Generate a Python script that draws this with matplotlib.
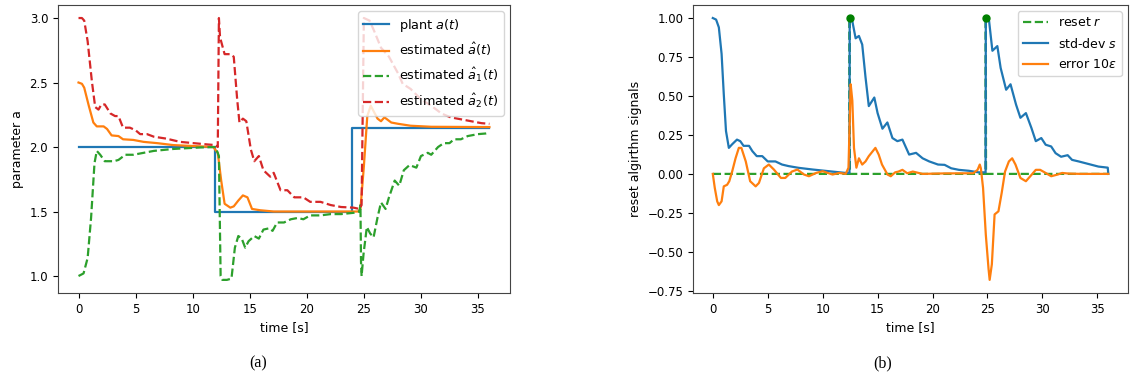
import numpy as np
import matplotlib.pyplot as plt

# --- panel (a): plant parameter and its estimates ---
plant_t = [0, 12, 24, 36]
plant_a = [2.0, 1.5, 2.15, 2.15]

est_t = [0, 0.3, 0.5, 0.9, 1.3, 1.6, 2.2, 2.5, 2.9, 3.5, 3.9, 4.8, 5.7, 6.9, 8.3, 10.7, 11.8,
         12.2, 12.5, 12.8, 13.3, 13.6, 14.0, 14.4, 14.8, 15.2, 15.9, 17.1, 20.0, 24.5,
         24.7, 25.0, 25.3, 25.6, 25.9, 26.2, 26.5, 26.8, 27.4, 28.0, 29.1, 30.9, 35.3, 36]
est_a = [2.5, 2.49, 2.46, 2.32, 2.19, 2.16, 2.16, 2.14, 2.09, 2.085, 2.06, 2.055, 2.04, 2.03, 2.015, 2.005, 2.0,
         1.955, 1.74, 1.56, 1.53, 1.54, 1.585, 1.625, 1.61, 1.52, 1.51, 1.5, 1.5, 1.5,
         1.52, 1.85, 2.24, 2.32, 2.27, 2.22, 2.2, 2.23, 2.19, 2.18, 2.165, 2.157, 2.155, 2.155]

est1_t = [0, 0.44, 0.8, 1.1, 1.4, 1.6, 1.9, 2.3, 3.1, 3.5, 4.1, 4.8, 5.4, 6.6, 8.3, 10.7, 12.0,
          12.3, 12.45, 12.6, 13.0, 13.4, 13.7, 14.0, 14.3, 14.6, 14.9, 15.4, 15.8, 16.2, 16.7,
          17.0, 17.4, 18.0, 18.6, 19.2, 19.7, 20.3, 21.2, 22.1, 23.0, 24.1, 24.6,
          24.7, 24.75, 24.8, 24.97, 25.26, 25.55, 25.85, 26.2, 26.5, 26.9, 27.2, 27.7, 28.1,
          28.5, 29.0, 29.6, 30.0, 30.6, 30.9, 31.5, 32.0, 32.5, 32.9, 33.5, 34.1, 35.0, 35.7, 36]
est1_a = [1.0, 1.02, 1.14, 1.45, 1.875, 1.97, 1.94, 1.89, 1.89, 1.90, 1.94, 1.94, 1.95, 1.97, 1.985, 1.997, 2.0,
          1.93, 1.0, 0.97, 0.97, 0.98, 1.22, 1.31, 1.29, 1.22, 1.27, 1.31, 1.29, 1.36, 1.37,
          1.35, 1.415, 1.415, 1.44, 1.45, 1.44, 1.47, 1.47, 1.48, 1.48, 1.49, 1.5,
          1.55, 1.11, 1.0, 1.17, 1.38, 1.33, 1.30, 1.455, 1.57, 1.52, 1.61, 1.74, 1.70,
          1.82, 1.86, 1.84, 1.93, 1.955, 1.94, 2.0, 2.03, 2.03, 2.06, 2.06, 2.085, 2.1, 2.105, 2.11]

est2_t = [0, 0.3, 0.5, 0.8, 1.17, 1.46, 1.75, 2.0, 2.3, 2.8, 3.2, 3.5, 3.9, 4.5, 5.0, 5.4, 6.0,
          6.6, 7.7, 8.9, 10.1, 11.3, 12.0, 12.2, 12.3, 12.4, 12.8, 13.3, 13.6, 13.9, 14.1,
          14.4, 14.7, 15.1, 15.4, 15.8, 16.2, 16.8, 17.1, 17.7, 18.3, 18.9, 19.7, 20.3,
          21.2, 22.1, 23.0, 24.1, 24.6, 24.8, 25.0, 25.5, 25.9, 26.5, 27.2, 28.0, 28.4,
          29.1, 30.0, 30.9, 31.8, 32.6, 34.4, 35.3, 36]
est2_a = [3.0, 3.0, 2.98, 2.82, 2.51, 2.31, 2.29, 2.33, 2.33, 2.26, 2.24, 2.24, 2.15, 2.15, 2.13, 2.1, 2.1,
          2.08, 2.065, 2.04, 2.03, 2.02, 2.015, 2.0, 3.0, 2.85, 2.72, 2.72, 2.70, 2.37, 2.19,
          2.22, 2.2, 1.98, 1.89, 1.93, 1.82, 1.77, 1.80, 1.665, 1.665, 1.61, 1.61, 1.575,
          1.575, 1.55, 1.535, 1.53, 1.52, 1.55, 3.0, 2.98, 2.90, 2.77, 2.70, 2.57, 2.49,
          2.45, 2.37, 2.32, 2.26, 2.23, 2.2, 2.185, 2.18]

# --- panel (b): reset algorithm signals ---
reset_t = [0, 12.44, 12.46, 12.48, 24.83, 24.85, 24.87, 36]
reset_r = [0, 0, 1, 0, 0, 1, 0, 0]

std_t = [0, 0.3, 0.55, 0.8, 1.0, 1.2, 1.46, 1.76, 2.2, 2.5, 2.8, 3.3, 3.6, 4.0, 4.5, 5.0, 5.7,
         6.3, 6.9, 7.8, 9.1, 10.6, 12.1, 12.44, 12.46, 12.7, 13.0, 13.3, 13.6, 13.9, 14.2,
         14.7, 15.0, 15.44, 15.89, 16.35, 16.8, 17.26, 17.87, 18.5, 19.1, 19.7, 20.5, 21.1,
         21.7, 22.4, 23.3, 24.2, 24.83, 24.85, 25.15, 25.45, 25.9, 26.2, 26.7, 27.1, 27.6,
         28.0, 28.5, 29.0, 29.4, 29.9, 30.3, 30.8, 31.2, 31.7, 32.3, 32.7, 33.3, 33.9, 34.5,
         35.1, 35.95, 36]
std_s = [1.0, 0.99, 0.94, 0.77, 0.51, 0.275, 0.167, 0.19, 0.22, 0.21, 0.18, 0.18, 0.146, 0.114, 0.114, 0.08, 0.08,
         0.06, 0.05, 0.039, 0.028, 0.017, 0.006, 0.006, 1.0, 0.98, 0.87, 0.885, 0.83, 0.62, 0.435,
         0.49, 0.39, 0.29, 0.33, 0.23, 0.21, 0.22, 0.124, 0.135, 0.10, 0.08, 0.06, 0.058,
         0.036, 0.026, 0.02, 0.01, 0.01, 1.0, 0.98, 0.79, 0.82, 0.68, 0.54, 0.575, 0.445,
         0.36, 0.39, 0.295, 0.21, 0.23, 0.187, 0.176, 0.133, 0.11, 0.12, 0.09, 0.08, 0.069, 0.058,
         0.047, 0.04, 0.0]

err_t = [0, 0.18, 0.4, 0.55, 0.8, 1.0, 1.3, 1.5, 1.76, 2.07, 2.37, 2.6, 3.0, 3.4, 3.9, 4.2, 4.65,
         5.1, 5.56, 6.2, 6.6, 7.2, 7.7, 8.3, 8.75, 9.4, 10.0, 10.9, 11.5, 12.1, 12.35, 12.55,
         12.7, 12.85, 13.07, 13.3, 13.6, 13.9, 14.2, 14.8, 15.1, 15.4, 15.9, 16.2, 16.6, 16.9,
         17.26, 17.7, 18.2, 19.1, 21.0, 23.7, 24.1, 24.3, 24.4, 24.6, 24.85, 25.1, 25.2, 25.4,
         25.65, 26.0, 26.3, 26.6, 26.95, 27.25, 27.55, 28.0, 28.5, 28.9, 29.4, 29.8, 30.3,
         30.8, 31.4, 31.8, 32.4, 33.5, 36]
err_e = [0, -0.09, -0.176, -0.2, -0.176, -0.08, -0.07, -0.047, 0.015, 0.10, 0.167, 0.167, 0.08, -0.047, -0.08, -0.058, 0.036,
         0.06, 0.028, -0.026, -0.026, 0.015, 0.028, -0.004, -0.015, 0.006, 0.017, -0.004, 0.006, 0.0, 0.04, 0.575,
         0.47, 0.167, 0.04, 0.10, 0.06, 0.08, 0.114, 0.167, 0.124, 0.06, -0.004, -0.015, 0.01, 0.015,
         0.026, 0.004, 0.015, 0.0, 0.003, 0.004, 0.026, 0.06, 0.036, -0.09, -0.39, -0.61, -0.68, -0.58,
         -0.26, -0.24, -0.12, 0.015, 0.08, 0.10, 0.06, -0.026, -0.047, -0.015, 0.026, 0.026, 0.006,
         -0.015, -0.004, 0.006, 0.002, 0.0, 0.0]

plt.rcParams['font.size'] = 9
plt.rcParams['xtick.labelsize'] = 8.5
plt.rcParams['ytick.labelsize'] = 8.5
fig = plt.figure(figsize=(11.3, 3.8), dpi=100)

# left panel
ax1 = fig.add_axes([0.0513, 0.229, 0.40, 0.758])
ax1.plot(plant_t, plant_a, drawstyle='steps-post', color='C0', lw=1.6, label=r'plant $a(t)$')
ax1.plot(est_t, est_a, color='C1', lw=1.6, label=r'estimated $\hat{a}(t)$')
ax1.plot(est1_t, est1_a, '--', color='C2', lw=1.6, label=r'estimated $\hat{a}_1(t)$')
ax1.plot(est2_t, est2_a, '--', color='C3', lw=1.6, label=r'estimated $\hat{a}_2(t)$')
ax1.set_xticks(np.arange(0, 40, 5))
ax1.set_yticks([1.0, 1.5, 2.0, 2.5, 3.0])
ax1.set_xlabel('time [s]')
ax1.set_ylabel('parameter a')
ax1.legend(loc='upper right', fontsize=9.3, labelspacing=0.6)

# right panel
ax2 = fig.add_axes([0.6133, 0.229, 0.385, 0.758])
ax2.plot(reset_t, reset_r, '--', color='C2', lw=1.6, label=r'reset $r$')
ax2.plot(std_t, std_s, color='C0', lw=1.6, label=r'std-dev $s$')
ax2.plot(err_t, err_e, color='C1', lw=1.6, label=r'error $10\varepsilon$')
rt = np.array(reset_t)
rr = np.array(reset_r)
ax2.plot(rt[rr > 0], rr[rr > 0], 'o', color='green', ms=5)
ax2.set_xticks(np.arange(0, 40, 5))
ax2.set_yticks(np.arange(-0.75, 1.01, 0.25))
ax2.set_xlabel('time [s]')
ax2.set_ylabel('reset algirthm signals')
ax2.legend(loc='upper right', fontsize=9, labelspacing=0.6)

for ax in (ax1, ax2):
    for sp in ax.spines.values():
        sp.set_color('#444444')

fig.text(0.228, 0.032, '(a)', family='Liberation Serif', fontsize=11.5, ha='center')
fig.text(0.781, 0.032, '(b)', family='Liberation Serif', fontsize=11.5, ha='center')

fig.savefig('out.png', dpi=100)
